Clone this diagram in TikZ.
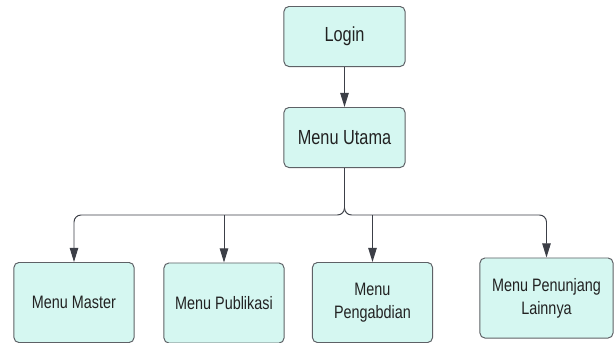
\documentclass[tikz,border=0pt]{standalone}
\usepackage{fontspec}
\setmainfont{Liberation Sans}[FakeStretch=0.8]
\usepackage{xcolor}
\usepackage{tikz}
\usetikzlibrary{positioning,arrows.meta}
\definecolor{boxfill}{HTML}{D5F7F1}
\definecolor{boxline}{HTML}{5E6166}
\definecolor{linkgray}{HTML}{3C3F47}
\definecolor{textdark}{HTML}{222222}

\begin{document}
\begin{tikzpicture}[
x=0.025cm, y=-0.025cm,
node distance=1cm,
box/.style={
draw=boxline,
fill=boxfill,
line width=0.7pt,
rounded corners=3.5pt,
minimum width=3.025cm,
minimum height=1.5cm,
align=center,
text=textdark,
font=\fontsize{14.5}{17}\selectfont
},
subbox/.style={
box,
minimum width=3cm,
minimum height=2cm,
font=\fontsize{12.8}{16.3}\selectfont
},
arrow/.style={
-{Triangle[width=6pt,length=10pt]},
line width=0.7pt,
color=linkgray
}
]

\useasboundingbox (0,0) rectangle (614,343);

\node[box] (login) at (344.5,36.5) {Login};

\node[box, below=of login] (utama) {Menu Utama};

\node[subbox] (master) at (74,302.5) {Menu Master};

\node[subbox] (publikasi) at (224,303) {Menu Publikasi};

\node[subbox] (pengabdian) at (372.5,302.5) {Menu\\Pengabdian};

\node[subbox, minimum width=3.325cm] (penunjang) at (546.5,298)
{Menu Penunjang\\Lainnya};

\coordinate (bus) at (344.5,215);

\draw[arrow] (login) -- (utama);

% branches to the sub menus
\draw[arrow, rounded corners=5pt] (utama.south) -- (bus) -| (master.north);
\draw[arrow, rounded corners=5pt] (utama.south) -- (bus) -| (penunjang.north);
\draw[arrow] (bus -| publikasi.north) -- (publikasi.north);
\draw[arrow] (bus -| pengabdian.north) -- (pengabdian.north);

\end{tikzpicture}
\end{document}
